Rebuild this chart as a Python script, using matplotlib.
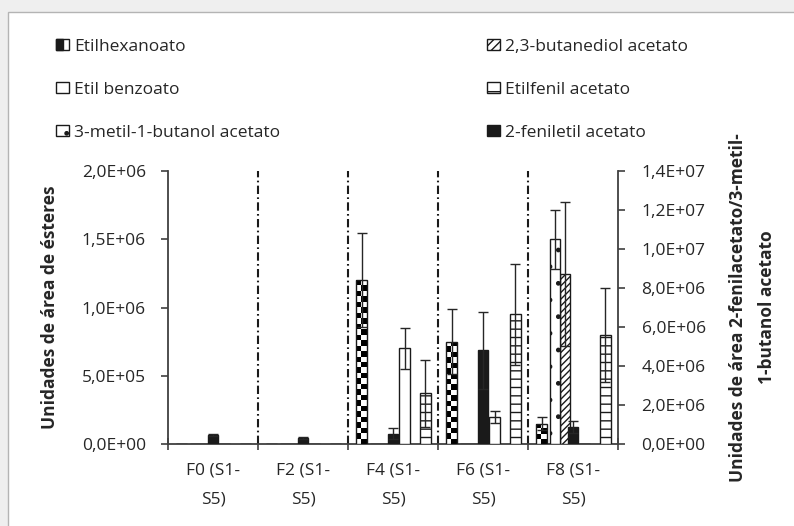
import numpy as np
import matplotlib
matplotlib.use('Agg')
import matplotlib.pyplot as plt
from matplotlib.patches import Patch, Rectangle
from matplotlib.legend_handler import HandlerPatch
from matplotlib.ticker import FuncFormatter

plt.rcParams['font.family'] = ['Open Sans', 'DejaVu Sans']
plt.rcParams['hatch.linewidth'] = 1.0
plt.rcParams['lines.scale_dashes'] = False

grupos = ['F0 (S1-\nS5)', 'F2 (S1-\nS5)', 'F4 (S1-\nS5)', 'F6 (S1-\nS5)', 'F8 (S1-\nS5)']

# eje principal
etilhexanoato = [0, 0, 1.20e6, 7.5e5, 1.5e5]
etilhexanoato_err = [0, 0, 3.45e5, 2.4e5, 4.6e4]
butanediol = [0, 0, 0, 0, 1.245e6]
butanediol_err = [0, 0, 0, 0, 5.3e5]
benzoato = [0, 0, 7.0e5, 2.0e5, 0]
benzoato_err = [0, 0, 1.5e5, 4.4e4, 0]
etilfenil = [0, 0, 3.7e5, 9.5e5, 8.0e5]
etilfenil_err = [0, 0, 2.45e5, 3.7e5, 3.45e5]
# eje secundario
metilbutanol = [0, 0, 0, 0, 1.05e7]
metilbutanol_err = [0, 0, 0, 0, 1.5e6]
feniletil = [4.8e5, 3.1e5, 5.3e5, 4.8e6, 8.7e5]
feniletil_err = [5e4, 5e4, 2.7e5, 1.98e6, 3.3e5]

ANCHO = 0.115
NEGRO = '#1a1a1a'
FS = 12.5

fig = plt.figure(figsize=(7.94, 5.26), dpi=100)
fig.patch.set_facecolor('#efefef')
fig.add_artist(Rectangle((8 / 794, -0.02), 1.0, (526 - 12) / 526 + 0.02,
                         transform=fig.transFigure, facecolor='white',
                         edgecolor='#b4b4b4', lw=1.0, zorder=0))
fig.subplots_adjust(left=168 / 794, right=618 / 794, bottom=(526 - 444) / 526, top=(526 - 171) / 526)
ax = fig.add_subplot(111)
ax.set_facecolor('none')
ax2 = ax.twinx()

ax.set_xlim(-0.5, 4.5)
ax.set_ylim(0, 2.0e6)
ax2.set_ylim(0, 1.4e7)


def barras(axis, vals, errs, off, **kw):
    x = np.arange(len(vals)) + off
    b = axis.bar(x, vals, width=ANCHO, edgecolor=NEGRO, linewidth=1.0, zorder=3, **kw)
    v = np.array(vals)
    e = np.array(errs)
    m = v > 0
    axis.errorbar(x[m], v[m], yerr=e[m], fmt='none', ecolor='#262626',
                  elinewidth=1.0, capsize=3.8, capthick=1.0, zorder=5)
    return b


def ajedrez(axis, container):
    for p in container.patches:
        h = p.get_height()
        if h <= 0:
            continue
        x0, w = p.get_x(), p.get_width()
        (px0, py0), (px1, py1) = axis.transData.transform([(x0, 0), (x0 + w, h)])
        nfil = max(1, int(round((py1 - py0) / 5.5)))
        tablero = np.add.outer(np.arange(nfil), np.arange(2)) % 2
        im = axis.imshow(tablero, cmap='gray_r', vmin=0, vmax=1, origin='lower',
                         extent=(x0, x0 + w, 0, h), aspect='auto',
                         interpolation='nearest', zorder=2.9)
        im.set_clip_path(p)


b_hex = barras(ax, etilhexanoato, etilhexanoato_err, -0.35, facecolor='none')
barras(ax, butanediol, butanediol_err, -0.089, facecolor='white', hatch='/////')
barras(ax, benzoato, benzoato_err, 0.128, facecolor='white')
barras(ax, etilfenil, etilfenil_err, 0.361, facecolor='white', hatch='--')
barras(ax2, metilbutanol, metilbutanol_err, -0.2, facecolor='white', hatch='.')
barras(ax2, feniletil, feniletil_err, 0.0, facecolor=NEGRO)
ajedrez(ax, b_hex)
ax.set_xlim(-0.5, 4.5)
ax.set_ylim(0, 2.0e6)

for xv in np.arange(0.5, 4.0, 1.0):
    ax.axvline(xv, color=NEGRO, lw=1.5, linestyle=(0, (6.0, 2.4, 1.2, 2.4)), zorder=2)

fmt = FuncFormatter(lambda v, p: f'{v:.1E}'.replace('.', ','))
ax.set_yticks(np.arange(0, 2.0e6 + 1, 5e5))
ax2.set_yticks(np.arange(0, 1.4e7 + 1, 2e6))
ax.yaxis.set_major_formatter(fmt)
ax2.yaxis.set_major_formatter(fmt)

ax.set_xticks(np.arange(-0.5, 5.0, 1.0))
ax.set_xticklabels([])
ax.set_xticks(np.arange(5), minor=True)
ax.set_xticklabels(grupos, minor=True)
ax.tick_params(axis='x', which='major', direction='inout', length=8, width=1.2, color='#404040')
ax.tick_params(axis='x', which='minor', length=0, pad=13, labelsize=FS, labelcolor='#262626')
for t in ax.get_xticklabels(minor=True):
    t.set_linespacing(2.1)
ax.tick_params(axis='y', direction='out', length=5, width=1.2, color='#404040', pad=11,
               labelsize=FS, labelcolor='#262626')
ax2.tick_params(axis='y', direction='out', length=5, width=1.2, color='#404040', pad=12,
                labelsize=FS, labelcolor='#262626')

for s in ['top', 'right']:
    ax.spines[s].set_visible(False)
for s in ['top', 'left', 'bottom']:
    ax2.spines[s].set_visible(False)
for s in [ax.spines['left'], ax.spines['bottom'], ax2.spines['right']]:
    s.set_color('#404040')
    s.set_linewidth(1.3)

ax.set_ylabel('Unidades de área de ésteres', fontsize=FS, fontweight='bold', color='#262626')
ax.yaxis.set_label_coords(-0.242, 0.5)
ax2.set_ylabel('Unidades de área 2-fenilacetato/3-metil-\n1-butanol acetato', fontsize=FS,
               fontweight='bold', color='#262626', linespacing=1.75)
ax2.yaxis.set_label_coords(1.2467, 0.5)


class HandlerAjedrez(HandlerPatch):
    def create_artists(self, legend, orig_handle, xdescent, ydescent, width, height, fontsize, trans):
        caja = Rectangle((-xdescent, -ydescent), width, height, facecolor='white',
                         edgecolor=NEGRO, lw=1.0, transform=trans)
        mitad = Rectangle((-xdescent, -ydescent), width * 0.55, height, facecolor=NEGRO,
                          edgecolor=NEGRO, lw=1.0, transform=trans)
        return [caja, mitad]


h_hex = Patch(facecolor='white', edgecolor=NEGRO, label='Etilhexanoato')
h_but = Patch(facecolor='white', edgecolor=NEGRO, hatch='////', label='2,3-butanediol acetato')
h_ben = Patch(facecolor='white', edgecolor=NEGRO, label='Etil benzoato')
h_fen = Patch(facecolor='white', edgecolor=NEGRO, hatch='-', label='Etilfenil acetato')
h_met = Patch(facecolor='white', edgecolor=NEGRO, hatch='.', label='3-metil-1-butanol acetato')
h_fet = Patch(facecolor=NEGRO, edgecolor=NEGRO, label='2-feniletil acetato')

fig.legend(handles=[h_hex, h_ben, h_met, h_but, h_fen, h_fet], ncol=2,
           loc='upper left', bbox_to_anchor=(56 / 794, (526 - 39) / 526),
           frameon=False, fontsize=FS, handlelength=0.75, handleheight=0.6,
           handletextpad=0.3, columnspacing=11.9, labelspacing=1.55,
           borderpad=0, borderaxespad=0, labelcolor='#262626',
           handler_map={h_hex: HandlerAjedrez()})

fig.savefig('out.png', dpi=100, facecolor=fig.get_facecolor())
